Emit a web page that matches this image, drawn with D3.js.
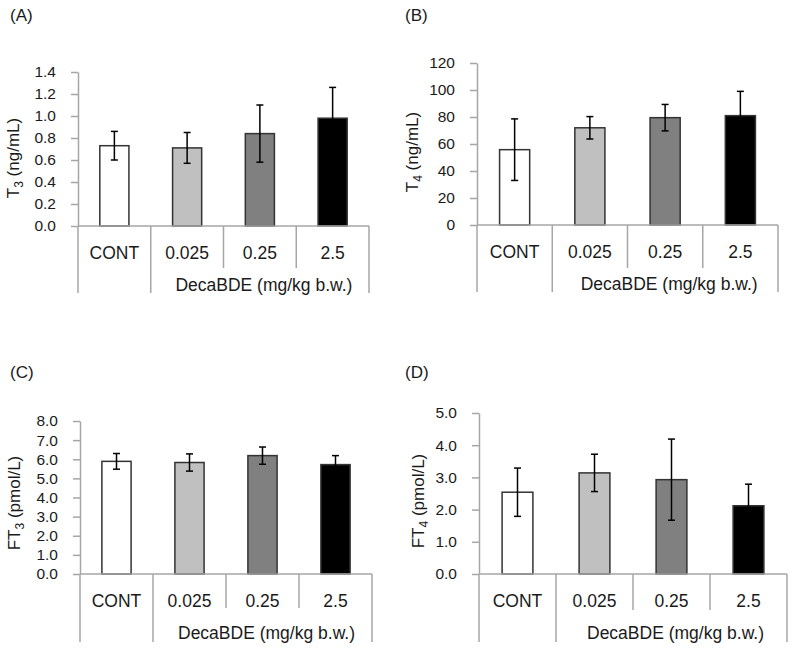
<!DOCTYPE html>
<html>
<head>
<meta charset="utf-8">
<script src="https://cdn.jsdelivr.net/npm/d3@7"></script>
<style>
  body { margin: 0; background: #fff; }
  svg text { font-family: "Liberation Sans", Arial, sans-serif; fill: #1a1a1a; }
</style>
</head>
<body>
<div id="chart"></div>
<script>
// Data (mean and SD per group)
var categories = ["CONT", "0.025", "0.25", "2.5"];
var groupLabel = "DecaBDE (mg/kg b.w.)";

var t3Mean = [0.73, 0.71, 0.84, 0.98];
var t3Sd = [0.13, 0.14, 0.26, 0.28];
var t4Mean = [55.8, 72.0, 79.5, 81.0];
var t4Sd = [22.8, 8.3, 9.8, 18.0];
var ft3Mean = [5.89, 5.83, 6.19, 5.72];
var ft3Sd = [0.41, 0.45, 0.45, 0.47];
var ft4Mean = [2.54, 3.14, 2.93, 2.12];
var ft4Sd = [0.75, 0.58, 1.26, 0.67];

var t3Ticks = [0, 0.2, 0.4, 0.6, 0.8, 1.0, 1.2, 1.4];
var t4Ticks = [0, 20, 40, 60, 80, 100, 120];
var ft3Ticks = [0, 1, 2, 3, 4, 5, 6, 7, 8];
var ft4Ticks = [0, 1, 2, 3, 4, 5];

// bar colours per group
var fills = ["#ffffff", "#c0c0c0", "#808080", "#000000"];

var svg = d3.select("#chart").append("svg")
  .attr("width", 792)
  .attr("height", 649);

// panel placement (pixels)
var panels = [
  { letter: "(A)", lx: 10, ly: 21, left: 78, right: 369, top: 72, base: 226, inner: 42, outer: 67,
    tx: 13, ty: 158, pre: "T", sub: "3", unit: " (ng/mL)", mean: t3Mean, sd: t3Sd, ticks: t3Ticks, fmt: d3.format(".1f") },
  { letter: "(B)", lx: 405, ly: 21, left: 477, right: 778, top: 63, base: 225, inner: 43, outer: 67,
    tx: 412, ty: 152, pre: "T", sub: "4", unit: " (ng/mL)", mean: t4Mean, sd: t4Sd, ticks: t4Ticks, fmt: d3.format("d") },
  { letter: "(C)", lx: 10, ly: 378, left: 80, right: 372, top: 421, base: 574, inner: 34, outer: 68,
    tx: 14, ty: 503, pre: "FT", sub: "3", unit: " (pmol/L)", mean: ft3Mean, sd: ft3Sd, ticks: ft3Ticks, fmt: d3.format(".1f") },
  { letter: "(D)", lx: 405, ly: 378, left: 479, right: 787, top: 413, base: 574, inner: 36, outer: 68,
    tx: 418, ty: 501, pre: "FT", sub: "4", unit: " (pmol/L)", mean: ft4Mean, sd: ft4Sd, ticks: ft4Ticks, fmt: d3.format(".1f") }
];

var axisColor = "#a6a6a6";

panels.forEach(function(p) {
  var g = svg.append("g");

  var x = d3.scaleBand()
    .domain(categories)
    .range([p.left, p.right]);

  var y = d3.scaleLinear()
    .domain([0, d3.max(p.ticks)])
    .range([p.base, p.top]);

  var rows = categories.map(function(c, i) {
    return { cat: c, mean: p.mean[i], sd: p.sd[i], fill: fills[i] };
  });

  // panel letter
  g.append("text")
    .attr("x", p.lx)
    .attr("y", p.ly)
    .style("font-size", "17px")
    .text(p.letter);

  // y axis
  var yAxis = g.append("g")
    .attr("transform", "translate(" + p.left + ",0)")
    .call(d3.axisLeft(y)
      .tickValues(p.ticks)
      .tickFormat(p.fmt)
      .tickSize(7)
      .tickSizeOuter(0)
      .tickPadding(15));
  yAxis.select(".domain").attr("stroke", axisColor).attr("stroke-width", 1.5);
  yAxis.selectAll(".tick line").attr("stroke", axisColor).attr("stroke-width", 1.5);
  yAxis.selectAll(".tick text")
    .style("font-size", "15.5px")
    .style("font-family", "'Liberation Sans', Arial, sans-serif")
    .attr("fill", "#1a1a1a");

  // y title with subscript
  var title = g.append("text")
    .attr("transform", "translate(" + p.tx + "," + p.ty + ") rotate(-90)")
    .attr("text-anchor", "middle")
    .attr("dy", "0.35em")
    .style("font-size", "17px");
  title.append("tspan").text(p.pre);
  title.append("tspan").attr("dy", 4).style("font-size", "12px").text(p.sub);
  title.append("tspan").attr("dy", -4).text(p.unit);

  // bars
  var bw = x.bandwidth() * 0.4;
  g.selectAll(".bar")
    .data(rows)
    .enter()
    .append("rect")
    .attr("x", d => x(d.cat) + (x.bandwidth() - bw) / 2)
    .attr("y", d => y(d.mean))
    .attr("width", bw)
    .attr("height", d => p.base - y(d.mean))
    .attr("fill", d => d.fill)
    .attr("stroke", "#333")
    .attr("stroke-width", 1.5);

  // error bars
  var cap = 3.5;
  var err = g.selectAll(".err")
    .data(rows)
    .enter()
    .append("g")
    .attr("stroke", "#000")
    .attr("stroke-width", 1.5);
  err.append("line")
    .attr("x1", d => x(d.cat) + x.bandwidth() / 2)
    .attr("x2", d => x(d.cat) + x.bandwidth() / 2)
    .attr("y1", d => y(d.mean - d.sd))
    .attr("y2", d => y(d.mean + d.sd));
  err.append("line")
    .attr("x1", d => x(d.cat) + x.bandwidth() / 2 - cap)
    .attr("x2", d => x(d.cat) + x.bandwidth() / 2 + cap)
    .attr("y1", d => y(d.mean + d.sd))
    .attr("y2", d => y(d.mean + d.sd));
  err.append("line")
    .attr("x1", d => x(d.cat) + x.bandwidth() / 2 - cap)
    .attr("x2", d => x(d.cat) + x.bandwidth() / 2 + cap)
    .attr("y1", d => y(d.mean - d.sd))
    .attr("y2", d => y(d.mean - d.sd));

  // x baseline
  g.append("line")
    .attr("x1", p.left)
    .attr("x2", p.right)
    .attr("y1", p.base)
    .attr("y2", p.base)
    .attr("stroke", axisColor)
    .attr("stroke-width", 1.5);

  // category dividers: outer ones run down past the group label
  var bounds = categories.map(d => x(d)).concat([p.right]);
  g.selectAll(".div")
    .data(bounds)
    .enter()
    .append("line")
    .attr("x1", d => d)
    .attr("x2", d => d)
    .attr("y1", p.base)
    .attr("y2", (d, i) => (i === 2 || i === 3) ? p.base + p.inner : p.base + p.outer)
    .attr("stroke", axisColor)
    .attr("stroke-width", 1.5);

  // category labels
  g.selectAll(".cat")
    .data(categories)
    .enter()
    .append("text")
    .attr("x", d => x(d) + x.bandwidth() / 2)
    .attr("y", p.base + 33)
    .attr("text-anchor", "middle")
    .style("font-size", "17.5px")
    .text(d => d);

  // group label under the dosed groups
  g.append("text")
    .attr("x", (x(categories[1]) + p.right) / 2 + 4)
    .attr("y", p.base + 65)
    .attr("text-anchor", "middle")
    .style("font-size", "17.5px")
    .text(groupLabel);
});
</script>
</body>
</html>
